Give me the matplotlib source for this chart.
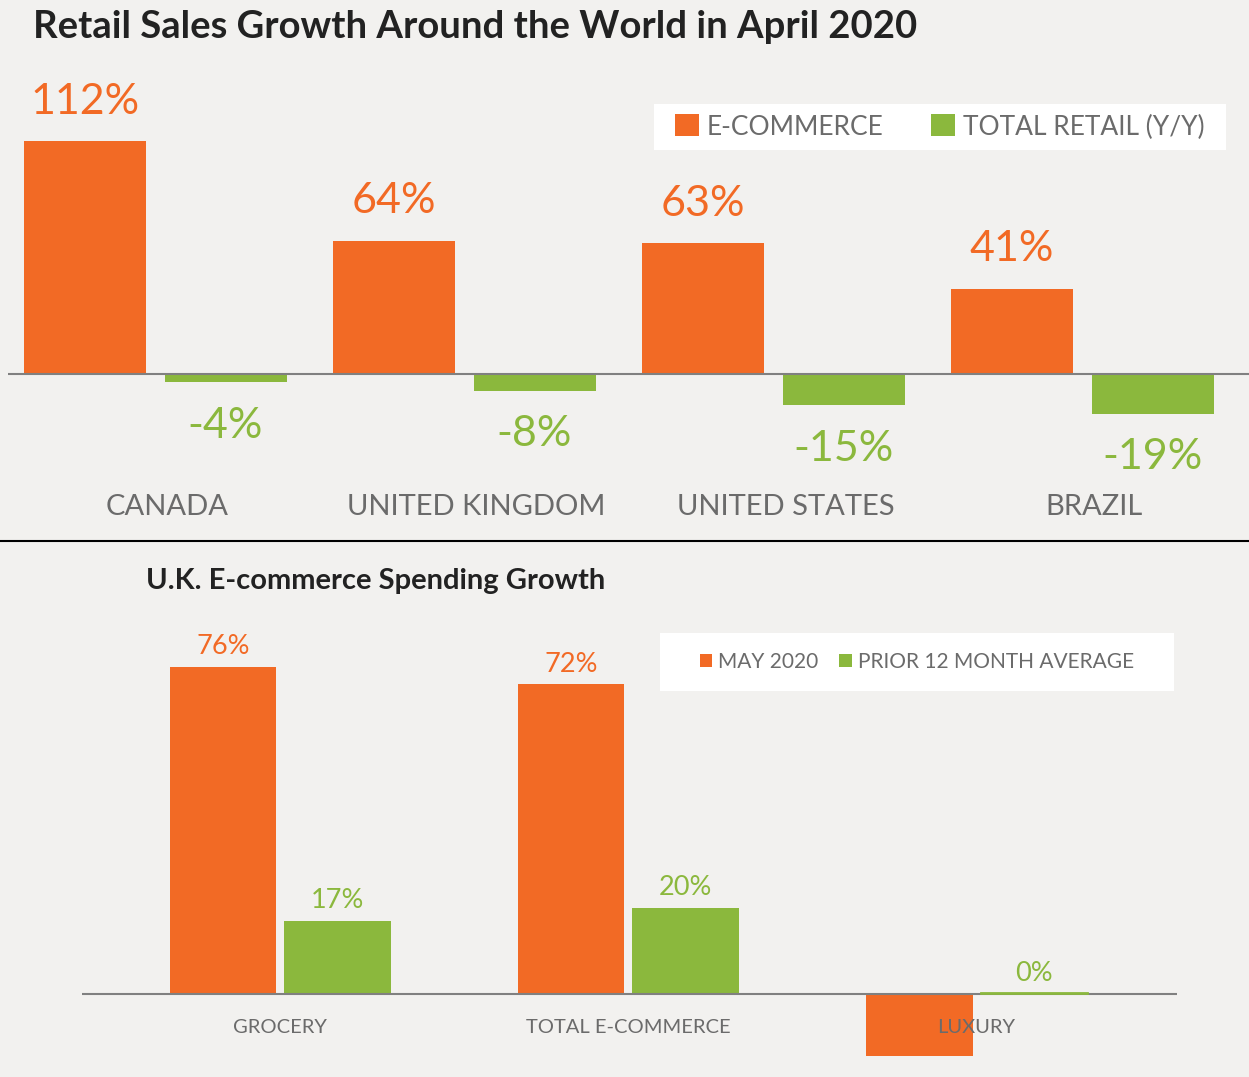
import numpy as np
import matplotlib.pyplot as plt
from matplotlib.patches import Rectangle
from matplotlib.lines import Line2D

# top chart data
countries = ['CANADA', 'UNITED KINGDOM', 'UNITED STATES', 'BRAZIL']
ecommerce = np.array([112, 64, 63, 41])
total_retail = np.array([-4, -8, -15, -19])

# bottom chart data
uk_categories = ['GROCERY', 'TOTAL E-COMMERCE', 'LUXURY']
may_2020 = np.array([76, 72, -14.5])
prior_avg = np.array([17, 20, 0])
may_labels = ['76%', '72%', '']
prior_labels = ['17%', '20%', '0%']

ORANGE = '#f26a25'
GREEN = '#8bb83d'
GRAY = '#6b6b6b'
BG = '#f2f1ef'

plt.rcParams['font.family'] = ['Lato', 'DejaVu Sans']

W, H = 1249, 1077
fig = plt.figure(figsize=(W / 100, H / 100), dpi=100, facecolor=BG)


def fx(px):
    return px / W


def fy(py):
    return 1 - py / H


# ---------- top chart ----------
ax1 = fig.add_axes([fx(8), fy(540), fx(W - 8), fy(60) - fy(540)])
ax1.set_facecolor('none')
x = np.arange(len(countries))
bw = 0.395
off = 0.228
b1 = ax1.bar(x - off, ecommerce, bw, color=ORANGE, label='E-COMMERCE')
b2 = ax1.bar(x + off, total_retail, bw, color=GREEN, label='TOTAL RETAIL (Y/Y)')
ax1.axhline(0, color='#808080', lw=1.5, zorder=3)
ax1.set_xlim(-0.476, 3.540)
ax1.set_ylim(-79.8, 151)
ax1.axis('off')

for xi, v in zip(x, ecommerce):
    ax1.text(xi - off, v + 19, f'{v}%', ha='center', va='center',
             color=ORANGE, fontsize=31)
for xi, v in zip(x, total_retail):
    ax1.text(xi + off, v - 21, f'{v}%', ha='center', va='center',
             color=GREEN, fontsize=31)
for xi, name in zip(x, countries):
    ax1.text(xi + 0.04, -64, name, ha='center', va='center',
             color=GRAY, fontsize=21)

fig.patches.append(Rectangle((fx(654), fy(150)), fx(1226 - 654), fy(104) - fy(150),
                             transform=fig.transFigure, facecolor='white',
                             edgecolor='none', zorder=0))
fig.legend(handles=[b1, b2], loc='center', bbox_to_anchor=(fx(940), fy(127)),
           ncol=2, frameon=False, fontsize=19, handlelength=0.9, handleheight=0.9,
           handletextpad=0.3, columnspacing=1.8, labelcolor=GRAY)

fig.text(fx(33), fy(27), 'Retail Sales Growth Around the World in April 2020',
         fontsize=27.5, fontweight='bold', color='#222222', va='center')

# separator
fig.add_artist(Line2D([0, 1], [fy(541), fy(541)], color='black', lw=1.5,
                      transform=fig.transFigure))

# ---------- bottom chart ----------
ax2 = fig.add_axes([fx(82), 0, fx(1177 - 82), fy(600)])
ax2.set_facecolor('none')
x2 = np.arange(len(uk_categories))
bw2 = 0.307
off2 = 0.165
c1 = ax2.bar(x2 - off2, may_2020, bw2, color=ORANGE, label='MAY 2020')
c2 = ax2.bar(x2 + off2, prior_avg, bw2, color=GREEN, label='PRIOR 12 MONTH AVERAGE')
ax2.plot([x2[-1] + off2 - bw2 / 2, x2[-1] + off2 + bw2 / 2], [0.3, 0.3], color=GREEN, lw=2, zorder=4)
ax2.axhline(0, color='#808080', lw=1.5, zorder=3)
ax2.set_xlim(-0.570, 2.576)
ax2.set_ylim(-19.3, 91.6)
ax2.axis('off')

for xi, v, lab in zip(x2, may_2020, may_labels):
    ax2.text(xi - off2, v + 4.7, lab, ha='center', va='center',
             color=ORANGE, fontsize=19.5)
for xi, v, lab in zip(x2, prior_avg, prior_labels):
    ax2.text(xi + off2, v + 4.8, lab, ha='center', va='center',
             color=GREEN, fontsize=19.5)
for xi, name in zip(x2, uk_categories):
    ax2.text(xi, -7.9, name, ha='center', va='center',
             color=GRAY, fontsize=14.5, zorder=5)

fig.patches.append(Rectangle((fx(660), fy(691)), fx(1174 - 660), fy(633) - fy(691),
                             transform=fig.transFigure, facecolor='white',
                             edgecolor='none', zorder=0))
fig.legend(handles=[c1, c2], loc='center', bbox_to_anchor=(fx(917), fy(662)),
           ncol=2, frameon=False, fontsize=15, handlelength=0.6, handleheight=0.6,
           handletextpad=0.3, columnspacing=1.0, labelcolor=GRAY)

fig.text(fx(146), fy(581), 'U.K. E-commerce Spending Growth',
         fontsize=21, fontweight='bold', color='#222222', va='center')

fig.savefig('out.png', dpi=100, facecolor=BG)
